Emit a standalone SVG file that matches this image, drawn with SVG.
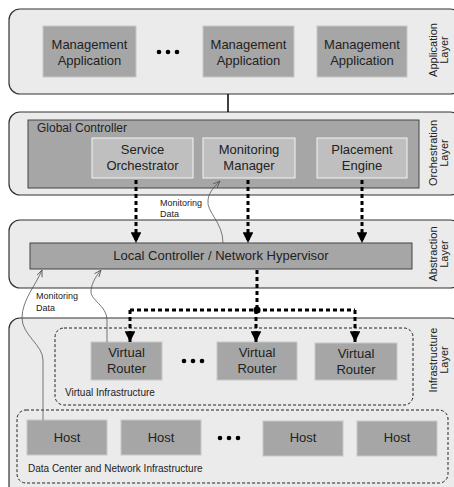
<svg xmlns="http://www.w3.org/2000/svg" width="454" height="487" viewBox="0 0 454 487">
<style>
text{font-family:"Liberation Sans",Arial,sans-serif;fill:#222}
.layer{fill:#ebebeb;stroke:#333;stroke-width:1.2}
.box{fill:#a6a6a6;stroke:#c8c8c8;stroke-width:1}
.sub{fill:#bfbfbf;stroke:#f4f4f4;stroke-width:1}
.t{font-size:13px;text-anchor:middle}
.lt{font-size:11px;text-anchor:middle}
.sm{font-size:9px}
.dash{fill:none;stroke:#000;stroke-width:3;stroke-dasharray:4 3}
.thin{fill:none;stroke:#555;stroke-width:0.8}
.cont{fill:none;stroke:#222;stroke-width:1;stroke-dasharray:3 2}
</style>
<defs>
<marker id="ah" viewBox="0 0 10 10" refX="10" refY="5" markerWidth="3.6" markerHeight="3.6" orient="auto" markerUnits="strokeWidth">
<path d="M0,0 L10,5 L0,10 z" fill="#000"/>
</marker>
<marker id="sa" viewBox="0 0 10 10" refX="10" refY="5" markerWidth="7" markerHeight="7" orient="auto" markerUnits="userSpaceOnUse">
<path d="M0,1 L10,5 L0,9" fill="none" stroke="#555" stroke-width="1.2"/>
</marker>
</defs>

<g id="application-layer">
<rect class="layer" x="9" y="9" width="452" height="85" rx="11"/>
<text class="lt" transform="translate(437,50) rotate(-90)"><tspan x="0" y="0">Application</tspan><tspan x="0" y="11">Layer</tspan></text>
</g>
<g id="mgmt-app-1"><rect class="box" x="43" y="26" width="93" height="51"/><text class="t" x="89.5" y="49">Management</text><text class="t" x="89.5" y="65">Application</text></g>
<g id="mgmt-dots"><circle cx="159" cy="52" r="2.3"/><circle cx="168" cy="52" r="2.3"/><circle cx="177" cy="52" r="2.3"/></g>
<g id="mgmt-app-2"><rect class="box" x="203" y="26" width="91" height="51"/><text class="t" x="248.5" y="49">Management</text><text class="t" x="248.5" y="65">Application</text></g>
<g id="mgmt-app-3"><rect class="box" x="317" y="26" width="90" height="51"/><text class="t" x="362" y="49">Management</text><text class="t" x="362" y="65">Application</text></g>

<g id="orchestration-layer">
<rect class="layer" x="9" y="112" width="452" height="83" rx="11"/>
<text class="lt" transform="translate(437,153) rotate(-90)"><tspan x="0" y="0">Orchestration</tspan><tspan x="0" y="11">Layer</tspan></text>
</g>
<g id="global-controller">
<rect x="28" y="120" width="391" height="68" fill="#a6a6a6" stroke="#444" stroke-width="1"/>
<text x="37" y="132" font-size="12">Global Controller</text>
</g>
<g id="service-orchestrator"><rect class="sub" x="92" y="138" width="101" height="40"/><text class="t" x="142.5" y="154">Service</text><text class="t" x="142.5" y="170">Orchestrator</text></g>
<g id="monitoring-manager"><rect class="sub" x="203" y="138" width="92" height="40"/><text class="t" x="249" y="154">Monitoring</text><text class="t" x="249" y="170">Manager</text></g>
<g id="placement-engine"><rect class="sub" x="317" y="138" width="90" height="40"/><text class="t" x="362" y="154">Placement</text><text class="t" x="362" y="170">Engine</text></g>

<g id="abstraction-layer">
<rect class="layer" x="9" y="220" width="452" height="68" rx="11"/>
<text class="lt" transform="translate(437,254) rotate(-90)"><tspan x="0" y="0">Abstraction</tspan><tspan x="0" y="11">Layer</tspan></text>
</g>
<g id="local-controller"><rect x="30" y="243" width="382" height="26" fill="#a6a6a6" stroke="#444" stroke-width="1"/><text class="t" x="221" y="260">Local Controller / Network Hypervisor</text></g>

<g id="infrastructure-layer">
<rect class="layer" x="9" y="318" width="452" height="180" rx="11"/>
<text class="lt" transform="translate(437,360) rotate(-90)"><tspan x="0" y="0">Infrastructure</tspan><tspan x="0" y="11">Layer</tspan></text>
</g>
<g id="virtual-infrastructure">
<rect class="cont" x="55" y="328" width="358" height="77" rx="9"/>
<text x="65" y="396" font-size="10">Virtual Infrastructure</text>
</g>
<g id="virtual-router-1"><rect class="box" x="91" y="342" width="71" height="38"/><text class="t" x="126.5" y="357">Virtual</text><text class="t" x="126.5" y="373">Router</text></g>
<g id="vr-dots"><circle cx="184" cy="361" r="2.3"/><circle cx="193" cy="361" r="2.3"/><circle cx="202" cy="361" r="2.3"/></g>
<g id="virtual-router-2"><rect class="box" x="217" y="342" width="80" height="38"/><text class="t" x="257" y="357">Virtual</text><text class="t" x="257" y="373">Router</text></g>
<g id="virtual-router-3"><rect class="box" x="315" y="343" width="82" height="37"/><text class="t" x="356" y="358">Virtual</text><text class="t" x="356" y="374">Router</text></g>

<g id="data-center">
<rect class="cont" x="17" y="410" width="431" height="73" rx="9"/>
<text x="28" y="472" font-size="10">Data Center and Network Infrastructure</text>
</g>
<g id="host-1"><rect class="box" x="27" y="420" width="80" height="35"/><text class="t" x="67" y="442">Host</text></g>
<g id="host-2"><rect class="box" x="121" y="420" width="80" height="35"/><text class="t" x="161" y="442">Host</text></g>
<g id="host-dots"><circle cx="220" cy="438" r="2.3"/><circle cx="229" cy="438" r="2.3"/><circle cx="238" cy="438" r="2.3"/></g>
<g id="host-3"><rect class="box" x="263" y="421" width="80" height="35"/><text class="t" x="303" y="442">Host</text></g>
<g id="host-4"><rect class="box" x="357" y="421" width="80" height="35"/><text class="t" x="397" y="442">Host</text></g>

<g id="connectors">
<line x1="228" y1="94" x2="228" y2="112" stroke="#000" stroke-width="1.5"/>
<path class="dash" d="M136,180 V243" marker-end="url(#ah)"/>
<path class="dash" d="M248,180 V243" marker-end="url(#ah)"/>
<path class="dash" d="M362,180 V243" marker-end="url(#ah)"/>
<path class="dash" d="M257,270 V310"/>
<path class="dash" d="M130,310 H355"/>
<path class="dash" d="M130,310 V342" marker-end="url(#ah)"/>
<path class="dash" d="M256,310 V342" marker-end="url(#ah)"/>
<path class="dash" d="M355,310 V342" marker-end="url(#ah)"/>
<circle cx="257" cy="310" r="3.6" fill="#000"/>
<path class="thin" d="M223,243 C223,222 206,212 208,200 C209,192 214,187 220,181" marker-end="url(#sa)"/>
<path class="thin" d="M43,420 L43,360 C43,345 22,335 22,318 C22,300 36,285 42,270" marker-end="url(#sa)"/>
<path class="thin" d="M107,342 L107,320 C107,305 89,300 91,290 C92,282 97,275 101,270" marker-end="url(#sa)"/>
<text class="sm" x="160" y="206">Monitoring</text>
<text class="sm" x="160" y="217">Data</text>
<text class="sm" x="36" y="299">Monitoring</text>
<text class="sm" x="36" y="311">Data</text>
</g>
</svg>
